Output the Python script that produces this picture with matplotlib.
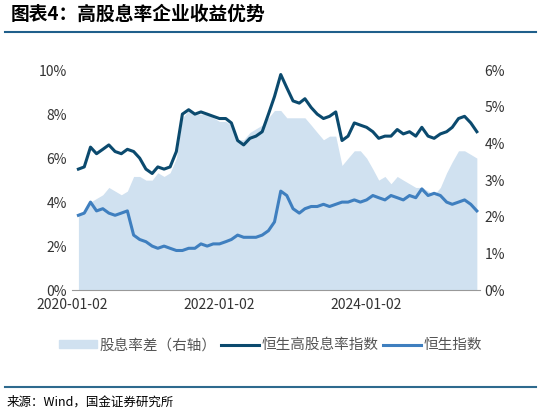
import matplotlib
matplotlib.use("Agg")
import matplotlib.pyplot as plt
import pandas as pd
from matplotlib.ticker import FuncFormatter

plt.rcParams['font.family'] = ['Noto Sans CJK SC', 'DejaVu Sans']

dates = pd.date_range("2020-01-02", periods=66, freq="MS") + pd.Timedelta(days=1)
high_div = [5.5,5.6,6.5,6.2,6.4,6.6,6.3,6.2,6.4,6.3,6.0,5.5,
            5.3,5.6,5.5,5.6,6.3,8.0,8.2,8.0,8.1,8.0,7.9,7.8,
            7.8,7.6,6.8,6.6,6.9,7.0,7.2,8.0,8.8,9.8,9.2,8.6,
            8.5,8.7,8.3,8.0,7.8,7.9,8.1,6.8,7.0,7.6,7.5,7.4,
            7.2,6.9,7.0,7.0,7.3,7.1,7.2,7.0,7.4,7.0,6.9,7.1,
            7.2,7.4,7.8,7.9,7.6,7.2]
hsi = [3.4,3.5,4.0,3.6,3.7,3.5,3.4,3.5,3.6,2.5,2.3,2.2,
       2.0,1.9,2.0,1.9,1.8,1.8,1.9,1.9,2.1,2.0,2.1,2.1,
       2.2,2.3,2.5,2.4,2.4,2.4,2.5,2.7,3.1,4.5,4.3,3.7,
       3.5,3.7,3.8,3.8,3.9,3.8,3.9,4.0,4.0,4.1,4.0,4.1,
       4.3,4.2,4.1,4.3,4.2,4.1,4.3,4.2,4.6,4.3,4.4,4.3,
       4.0,3.9,4.0,4.1,3.9,3.6]
spread = [2.1,2.1,2.4,2.5,2.6,2.8,2.7,2.6,2.7,3.1,3.1,3.0,
          3.0,3.2,3.1,3.2,3.6,4.7,4.9,4.8,4.8,4.8,4.7,4.6,
          4.6,4.5,4.1,4.1,4.3,4.4,4.5,4.7,4.9,4.9,4.7,4.7,
          4.7,4.7,4.5,4.3,4.1,4.2,4.2,3.4,3.6,3.8,3.8,3.6,
          3.3,3.0,3.1,2.9,3.1,3.0,2.9,2.8,2.8,2.7,2.6,2.8,
          3.2,3.5,3.8,3.8,3.7,3.6]
xticks = ["2020-01-02", "2022-01-02", "2024-01-02"]

fig = plt.figure(figsize=(5.41, 4.15), dpi=100)
ax = fig.add_axes([0.133, 0.301, 0.754, 0.530])
ax2 = ax.twinx()
ax2.fill_between(dates, spread, 0, color="#d0e1f0", lw=0)
ax.set_zorder(ax2.get_zorder() + 1)
ax.patch.set_visible(False)
l1, = ax.plot(dates, high_div, color="#0b4a6e", lw=2.2)
l2, = ax.plot(dates, hsi, color="#3f7fbf", lw=2.2)
ax.set_ylim(0, 10)
ax2.set_ylim(0, 6)
ax.set_yticks(range(0, 11, 2))
ax2.set_yticks(range(0, 7))
ax.yaxis.set_major_formatter(FuncFormatter(lambda v, p: f"{v:.0f}%"))
ax2.yaxis.set_major_formatter(FuncFormatter(lambda v, p: f"{v:.0f}%"))
ax.set_xlim(pd.Timestamp("2020-01-01"), dates[-1] + pd.Timedelta(days=15))
ax.set_xticks(pd.to_datetime(xticks))
ax.set_xticklabels(xticks)
for a in (ax, ax2):
    for s in a.spines.values():
        s.set_visible(False)
    a.tick_params(length=0, labelsize=10, colors="#333333")
ax.tick_params(axis="x", pad=6)
ax.spines['bottom'].set_visible(True)
ax.spines['bottom'].set_color("#999999")

patch = plt.Rectangle((0, 0), 1, 1, color="#d0e1f0")
fig.legend([patch, l1, l2], ["股息率差（右轴）", "恒生高股息率指数", "恒生指数"], loc="center",
           bbox_to_anchor=(0.5, 0.168), ncol=3, frameon=False, fontsize=10.5,
           handlelength=2.6, handleheight=0.5, columnspacing=0.3, handletextpad=0.2,
           labelcolor="#555555")

fig.text(0.02, 0.965, "图表4：高股息率企业收益优势", fontsize=13.5, fontweight="bold",
         style="italic", va="center")
fig.add_artist(plt.Line2D([0.01, 0.99], [0.922, 0.922], color="#1f5f8b", lw=1.5))
fig.add_artist(plt.Line2D([0.01, 0.99], [0.068, 0.068], color="#2e6a8e", lw=1.5))
fig.text(0.012, 0.03, "来源：Wind，国金证券研究所", fontsize=9, va="center")
fig.savefig("out.png", dpi=100)
